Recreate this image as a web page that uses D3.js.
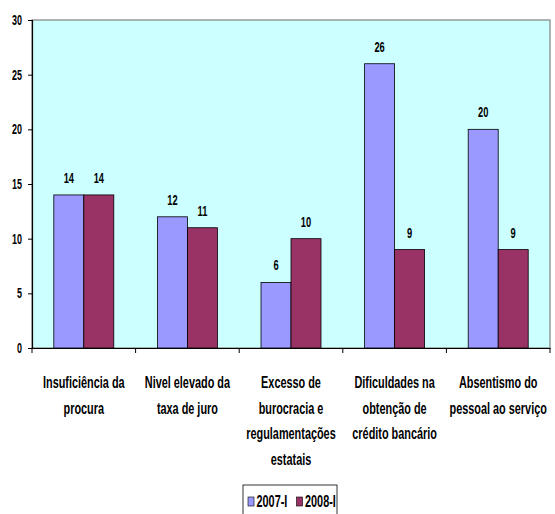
<!DOCTYPE html>
<html><head><meta charset="utf-8">
<script src="https://cdn.jsdelivr.net/npm/d3@7"></script>
<style>
body{margin:0;background:#fff;}
text{font-family:"Liberation Sans",Arial,sans-serif;font-weight:bold;fill:#000;}
</style></head>
<body><svg id="c" width="555" height="514"></svg>
<script>
const categories = [
  ["Insuficiência da","procura"],
  ["Nivel elevado da","taxa de juro"],
  ["Excesso de","burocracia e","regulamentações","estatais"],
  ["Dificuldades na","obtenção de","crédito bancário"],
  ["Absentismo do","pessoal ao serviço"]
];
const seriesNames = ["2007-I","2008-I"];
const values2007 = [14, 12, 6, 26, 20];
const values2008 = [14, 11, 10, 9, 9];
const yTicks = [0,5,10,15,20,25,30];
const colors = ["#9999FF","#993366"];

const svg = d3.select("#c");
const L = 32, R = 550, T = 20, B = 348;
const x = d3.scaleBand().domain(d3.range(categories.length)).range([L, R]);
const y = d3.scaleLinear().domain([0,30]).range([B, T]);
const sub = d3.scaleBand().domain([0,1]).range([0, 60]);

function ntext(g, px, py, str, size, sx, anchor){
  return g.append("text").attr("transform",`translate(${px},${py}) scale(${sx},1)`)
    .attr("text-anchor",anchor||"middle").attr("font-size",size).text(str);
}

svg.append("rect").attr("x",L).attr("y",T).attr("width",R-L).attr("height",B-T)
  .attr("fill","#CCFFFF").attr("stroke","#808080").attr("stroke-width",1.2);

const series = [values2007, values2008];
series.forEach((vals, si) => {
  svg.append("g").selectAll("rect").data(vals).join("rect")
    .attr("x",(d,i)=>x(i)+(x.bandwidth()-60)/2+sub(si))
    .attr("y",d=>y(d))
    .attr("width",sub.bandwidth())
    .attr("height",d=>B-y(d))
    .attr("fill",colors[si]).attr("stroke","#000").attr("stroke-width",0.8);
  const g = svg.append("g");
  vals.forEach((d,i)=>{
    ntext(g, x(i)+(x.bandwidth()-60)/2+sub(si)+sub.bandwidth()/2, y(d)-12, d, 15, 0.62);
  });
});

// y axis
const ya = svg.append("g").attr("transform",`translate(${L},0)`)
  .call(d3.axisLeft(y).tickValues(yTicks).tickSize(4).tickFormat(""));
ya.select(".domain").attr("stroke","#000").attr("stroke-width",1.2);
ya.selectAll(".tick line").attr("stroke","#000");
const yl = svg.append("g");
yTicks.forEach(t=>ntext(yl, 22, y(t)+5, t, 14.5, 0.62, "end"));

// x axis
const xa = svg.append("g").attr("transform",`translate(0,${B})`)
  .call(d3.axisBottom(x).tickValues([]).tickSizeOuter(0));
xa.select(".domain").attr("stroke","#000").attr("stroke-width",1.2);
const bounds = d3.range(categories.length+1).map(i => i<categories.length ? x(i) : R);
svg.append("g").selectAll("line").data(bounds).join("line")
  .attr("x1",d=>d).attr("x2",d=>d).attr("y1",B).attr("y2",B+5)
  .attr("stroke","#000");

const lab = svg.append("g");
categories.forEach((lines,i)=>{
  lines.forEach((ln,j)=>ntext(lab, x(i)+x.bandwidth()/2, 388+j*25.5, ln, 16, 0.68));
});

// legend
const lg = svg.append("g");
lg.append("rect").attr("x",243).attr("y",485).attr("width",94).attr("height",30)
  .attr("fill","#fff").attr("stroke","#000").attr("stroke-width",0.8);
seriesNames.forEach((s,i)=>{
  const lx = 248 + i*48.5;
  lg.append("rect").attr("x",lx).attr("y",497).attr("width",6).attr("height",9)
    .attr("fill",colors[i]).attr("stroke","#000").attr("stroke-width",0.6);
  ntext(lg, lx+8.5, 507, s, 16, 0.68, "start");
});
</script></body></html>
